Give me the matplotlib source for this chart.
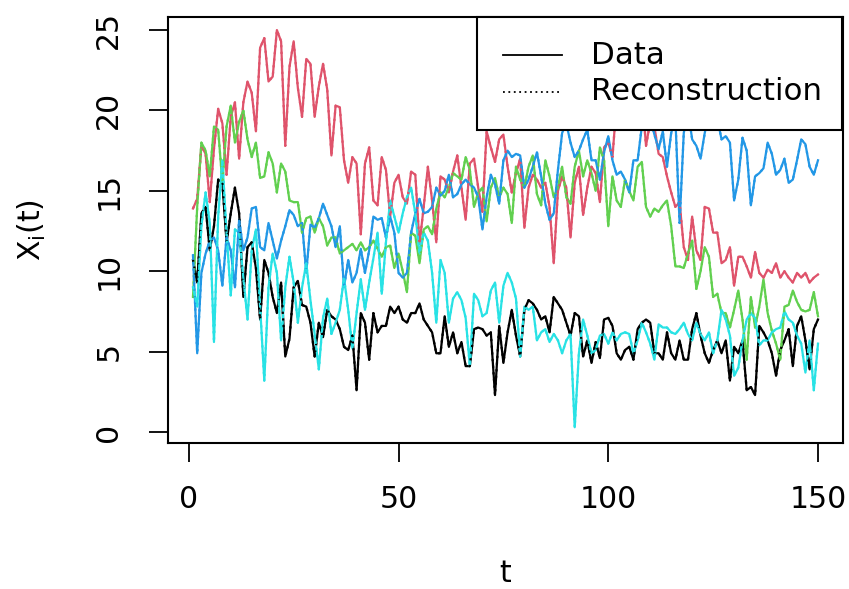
import matplotlib
matplotlib.use("Agg")
import matplotlib.pyplot as plt
from matplotlib.patches import Rectangle
from matplotlib.lines import Line2D
import numpy as np

plt.rcParams['font.family'] = ['DejaVu Sans']
plt.rcParams['mathtext.fontset'] = 'dejavusans'

t = list(range(1, 151))

series_black = [10.7, 9.3, 13.6, 14.0, 11.3, 12.8, 15.7, 15.5, 11.8, 13.6,
                15.2, 13.6, 8.4, 11.5, 11.8, 10.2, 7.0, 10.7, 9.9, 8.4,
                7.4, 9.3, 4.7, 5.8, 9.0, 9.4, 7.9, 7.8, 6.8, 4.7,
                6.8, 5.9, 7.6, 7.2, 7.0, 6.4, 5.3, 5.1, 6.0, 2.6,
                7.4, 6.8, 4.5, 7.4, 6.2, 6.6, 6.6, 7.8, 7.4, 7.8,
                7.0, 6.8, 7.4, 7.4, 8.0, 7.0, 6.6, 6.2, 4.9, 4.9,
                7.2, 5.3, 6.2, 4.9, 5.6, 4.1, 4.1, 6.4, 6.5, 6.4,
                6.0, 6.2, 2.3, 6.6, 4.3, 6.2, 7.6, 6.0, 4.7, 7.6,
                8.2, 8.0, 7.6, 7.0, 7.2, 6.2, 8.4, 8.0, 7.6, 6.8,
                6.0, 7.4, 7.2, 4.7, 5.7, 4.3, 5.6, 4.6, 7.0, 7.1,
                6.6, 4.9, 4.5, 5.1, 5.3, 4.5, 6.4, 6.8, 7.0, 6.8,
                4.9, 4.9, 4.5, 6.2, 4.9, 4.5, 5.7, 4.5, 4.5, 6.4,
                7.4, 6.0, 4.9, 4.3, 5.1, 5.7, 4.9, 5.7, 3.2, 5.3,
                4.9, 5.7, 2.6, 2.8, 2.3, 6.6, 6.2, 5.7, 4.9, 3.5,
                5.1, 5.7, 6.4, 4.1, 6.6, 7.2, 5.7, 3.9, 6.4, 7.0]

series_red = [13.9, 14.5, 17.8, 17.3, 14.3, 17.6, 20.1, 19.2, 16.0, 19.6,
              20.5, 17.0, 20.5, 21.8, 21.1, 18.7, 23.9, 24.5, 21.8, 22.1,
              25.0, 24.3, 17.8, 22.7, 24.3, 21.4, 19.6, 23.2, 22.9, 19.6,
              21.5, 22.9, 21.3, 17.2, 20.3, 20.2, 16.9, 15.5, 17.1, 16.7,
              12.3, 16.7, 17.7, 14.4, 14.1, 17.1, 16.3, 13.4, 15.5, 16.0,
              14.6, 14.2, 16.2, 16.0, 11.7, 14.0, 16.5, 14.4, 11.8, 15.9,
              15.7, 14.9, 16.2, 17.2, 15.2, 13.2, 16.7, 17.0, 15.2, 13.7,
              18.7, 17.7, 16.8, 18.2, 18.5, 16.5, 14.9, 16.1, 17.0, 12.7,
              15.2, 16.0, 15.7, 15.2, 15.5, 14.0, 10.5, 15.0, 15.9, 15.2,
              12.1, 15.5, 16.5, 13.5, 15.2, 16.5, 16.1, 14.3, 17.7, 18.0,
              17.1, 20.5, 21.5, 19.5, 20.8, 22.0, 20.0, 21.0, 17.8, 19.3,
              19.0, 17.3, 17.1, 15.9, 14.9, 14.0, 14.3, 11.5, 10.7, 13.4,
              11.3, 10.7, 14.0, 13.9, 12.4, 12.4, 10.5, 10.7, 11.5, 9.1,
              10.9, 10.9, 10.3, 9.6, 11.2, 9.9, 9.6, 10.1, 9.9, 10.5,
              9.6, 10.0, 9.6, 9.3, 9.9, 9.6, 9.9, 9.3, 9.6, 9.8]

series_green = [8.4, 14.0, 18.0, 17.5, 15.9, 19.0, 18.8, 15.5, 19.0, 20.3,
                18.0, 19.3, 20.0, 18.2, 17.1, 18.0, 15.8, 15.9, 17.4, 16.7,
                14.9, 16.7, 16.2, 14.4, 14.3, 14.3, 12.4, 13.3, 13.4, 12.4,
                13.3, 12.8, 11.6, 12.1, 12.1, 11.1, 11.3, 11.5, 11.7, 11.3,
                11.8, 11.3, 11.5, 11.9, 11.4, 10.9, 11.5, 11.6, 10.2, 11.1,
                10.0, 8.7, 12.4, 12.2, 10.5, 12.6, 12.8, 12.3, 13.9, 14.9,
                14.6, 15.2, 16.1, 15.9, 15.7, 17.1, 16.3, 14.0, 14.9, 15.2,
                13.1, 15.2, 15.8, 14.6, 15.2, 14.8, 13.0, 16.5, 15.7, 15.2,
                16.5, 17.2, 14.8, 14.1, 16.9, 15.9, 14.6, 15.2, 16.5, 14.6,
                14.2, 16.5, 17.5, 15.9, 16.9, 16.1, 15.0, 17.7, 16.9, 12.8,
                15.9, 14.4, 14.0, 15.7, 15.0, 14.4, 16.5, 16.8, 14.0, 13.4,
                13.9, 13.7, 14.1, 14.4, 12.8, 10.3, 10.3, 10.2, 11.1, 11.9,
                8.9, 10.0, 11.5, 10.9, 8.4, 8.6, 7.4, 7.4, 6.5, 7.6,
                8.8, 7.0, 4.5, 8.4, 6.5, 7.8, 9.5, 7.4, 6.3, 5.5,
                4.5, 7.8, 7.9, 8.8, 8.1, 7.6, 7.5, 7.6, 8.7, 7.2]

series_blue = [11.0, 4.9, 9.9, 11.1, 11.9, 12.1, 11.3, 9.1, 12.1, 11.3,
               9.0, 13.2, 11.3, 12.1, 13.9, 14.0, 11.5, 11.3, 13.0, 11.9,
               10.8, 11.9, 12.8, 13.8, 13.5, 12.8, 13.0, 9.9, 12.9, 12.7,
               13.3, 14.2, 13.5, 12.8, 11.5, 12.8, 9.0, 10.7, 9.3, 9.9,
               11.4, 9.9, 11.3, 13.4, 13.2, 13.3, 12.1, 13.4, 12.4, 9.9,
               9.6, 9.9, 12.4, 13.6, 14.5, 13.6, 13.7, 14.0, 15.2, 14.7,
               15.0, 16.0, 14.6, 14.8, 15.4, 15.7, 15.4, 15.2, 14.6, 12.6,
               14.6, 16.0, 15.4, 14.2, 16.9, 17.5, 17.1, 17.3, 17.2, 15.2,
               15.7, 16.5, 17.4, 15.9, 14.2, 13.2, 13.6, 16.3, 18.6, 19.2,
               18.0, 17.1, 17.5, 18.2, 18.8, 16.9, 16.9, 15.7, 17.4, 18.4,
               16.9, 16.0, 16.2, 15.7, 14.9, 16.9, 16.9, 19.0, 20.0, 19.5,
               18.5, 17.6, 18.7, 16.5, 18.6, 19.5, 13.0, 18.6, 20.0, 18.2,
               17.8, 17.0, 18.6, 19.8, 20.5, 19.5, 18.2, 18.4, 18.0, 14.4,
               15.7, 18.3, 17.5, 14.1, 15.9, 16.1, 16.4, 18.0, 17.3, 16.0,
               16.3, 17.0, 15.5, 15.7, 16.9, 18.2, 17.9, 16.5, 16.0, 16.9]

series_cyan = [9.0, 7.8, 12.8, 14.9, 13.0, 5.6, 13.4, 16.9, 12.4, 8.5,
               12.6, 12.4, 9.6, 7.0, 11.3, 12.6, 7.8, 3.2, 9.0, 11.1,
               9.9, 5.7, 9.0, 10.9, 9.3, 6.8, 9.0, 10.5, 8.2, 6.1,
               3.9, 7.1, 8.3, 6.1, 6.8, 7.6, 9.6, 7.6, 5.2, 7.4,
               9.5, 7.6, 9.3, 10.8, 12.4, 8.6, 11.8, 14.4, 13.4, 12.4,
               13.6, 14.6, 15.2, 13.6, 11.1, 12.4, 11.9, 9.9, 6.8, 10.7,
               9.9, 6.8, 8.3, 8.7, 8.2, 7.1, 4.1, 8.6, 8.2, 7.2,
               7.4, 8.8, 9.3, 6.8, 9.1, 9.9, 9.3, 8.3, 4.7, 7.8,
               7.6, 7.8, 5.7, 6.2, 6.4, 5.6, 6.1, 5.7, 4.9, 5.7,
               6.1, 0.3, 4.9, 7.0, 6.0, 4.9, 5.1, 6.0, 6.1, 5.5,
               6.2, 5.7, 6.1, 6.2, 6.1, 4.9, 5.7, 6.8, 6.2, 5.5,
               4.5, 6.7, 6.5, 6.5, 6.2, 6.1, 6.4, 6.8, 6.1, 5.7,
               6.8, 6.1, 5.7, 6.2, 4.9, 5.7, 7.6, 7.0, 6.0, 3.5,
               4.0, 5.7, 7.0, 7.4, 7.1, 5.4, 5.7, 5.7, 6.2, 6.4,
               6.5, 7.5, 7.0, 6.8, 6.0, 5.5, 3.7, 5.7, 2.6, 5.5]

# Reconstructions follow the data almost exactly at this resolution
recon_black = series_black
recon_red = series_red
recon_green = series_green
recon_blue = series_blue
recon_cyan = series_cyan

colors = ["#000000", "#DF536B", "#61D04F", "#2297E6", "#28E2E5"]
data = [series_black, series_red, series_green, series_blue, series_cyan]
recon = [recon_black, recon_red, recon_green, recon_blue, recon_cyan]

x_ticks = [0, 50, 100, 150]
y_ticks = [0, 5, 10, 15, 20, 25]
legend_labels = ["Data", "Reconstruction"]

W, H = 849, 589
fig = plt.figure(figsize=(W / 100, H / 100), dpi=100)
L, R, T, B = 168, 843, 17, 443
ax = fig.add_axes([L / W, 1 - B / H, (R - L) / W, (B - T) / H])

for s, c in zip(data, colors):
    ax.plot(t, s, color=c, lw=1.6, solid_joinstyle='round')
for s, c in zip(recon, colors):
    ax.plot(t, s, color=c, lw=1.6, linestyle=(0, (1, 2)))

ax.set_xlim(-4.96, 155.96)
ax.set_ylim(-0.68, 25.81)
ax.set_xticks(x_ticks)
ax.set_yticks(y_ticks)
fs = 21.5
ax.tick_params(axis='both', direction='out', length=13.7, width=1.3,
               labelsize=fs)
ax.tick_params(axis='x', pad=16.5)
ax.tick_params(axis='y', pad=18.5)
for lab in ax.get_yticklabels():
    lab.set_rotation(90)
    lab.set_va('center')
for sp in ax.spines.values():
    sp.set_linewidth(1.5)

# legend box (R style, top-right)
def ax_frac(px, py):
    return (px - L) / (R - L), (B - py) / (B - T)

x0, y0 = ax_frac(477, 130)
x1, y1 = ax_frac(842, 17)
ax.add_patch(Rectangle((x0, y0), x1 - x0, y1 - y0, transform=ax.transAxes,
                       facecolor='white', edgecolor='black', lw=1.5,
                       zorder=10, clip_on=False))
lx0, _ = ax_frac(503, 0)
lx1, _ = ax_frac(562, 0)
tx, _ = ax_frac(591, 0)
for (py, ls, lab) in [(55, '-', legend_labels[0]), (92, (0, (1, 2)), legend_labels[1])]:
    _, yy = ax_frac(0, py)
    ax.add_line(Line2D([lx0, lx1], [yy, yy], transform=ax.transAxes,
                       color='black', lw=1.3, linestyle=ls, zorder=11))
    ax.text(tx, yy, lab, transform=ax.transAxes, fontsize=22.2,
            ha='left', va='center', zorder=11)

fig.text(505.5 / W, 1 - 573 / H, 't', fontsize=fs, ha='center', va='center')
fig.text(32 / W, 1 - 230 / H, r'X$_{\mathregular{i}}$(t)', fontsize=fs,
         ha='center', va='center', rotation=90)

fig.savefig('out.png', dpi=100)
